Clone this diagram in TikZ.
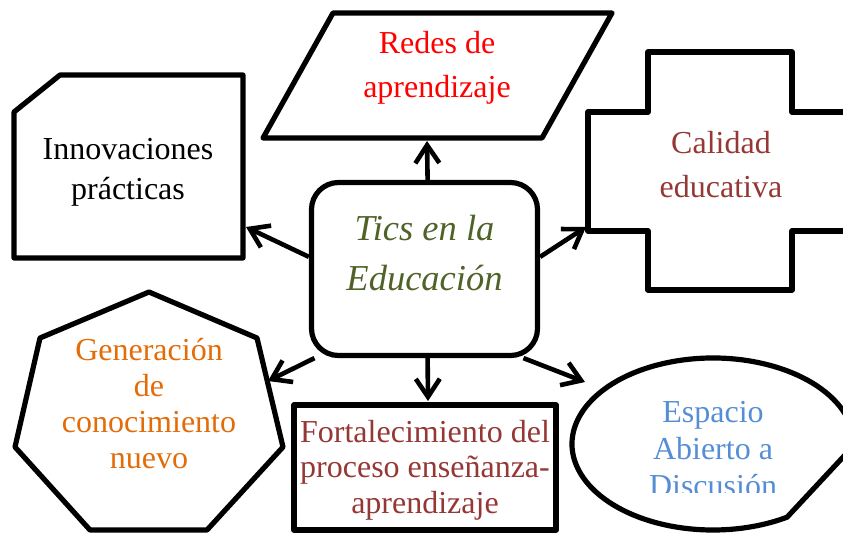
\documentclass[tikz,border=0pt]{standalone}
\usepackage{fontspec}
\setmainfont{Liberation Serif}
\usetikzlibrary{arrows.meta}
\definecolor{redesRed}{HTML}{FF0000}
\definecolor{darkRed}{HTML}{953735}
\definecolor{genOrange}{HTML}{E36C09}
\definecolor{espBlue}{HTML}{558ED5}
\definecolor{ticsGreen}{HTML}{4F6228}
\begin{document}
\begin{tikzpicture}[x=1pt, y=-1pt, shapeStyle/.style={draw, line width=5.2pt, line join=round}, textStyle/.style={anchor=north, inner sep=0pt, align=center, font=\fontsize{32}{#1}\selectfont}, arrowStyle/.style={line width=4.6pt, -{Straight Barb[length=18pt, width=24pt]}}]
                    \useasboundingbox (0,0) rectangle (843,533);
                    \clip (0,0) rectangle (843,533);

                    % shapes round the centre
                    \draw[shapeStyle] (333,13) -- (612,13) -- (542,138) -- (263,138) -- cycle;
                    \draw[shapeStyle] (60,75) -- (243,75) -- (243,258) -- (14,258) -- (14,112) -- cycle;
                    \draw[shapeStyle] (648,52) -- (792,52) -- (792,112) -- (852,112) -- (852,231) -- (792,231)
                        -- (792,290) -- (648,290) -- (648,231) -- (588,231) -- (588,112) -- (648,112) -- cycle;
                    \draw[shapeStyle] (149,292) -- (257,338) -- (283,447) -- (207,530) -- (90,530) -- (15,447) -- (40,338) -- cycle;
                    \draw[shapeStyle] (294,405) rectangle (556,530);
                    \draw[shapeStyle] (713,444) ++(-20:141 and 86) arc[start angle=-20, end angle=-301.7, x radius=141, y radius=86]
                        -- (900,396) -- cycle;

                    \node[draw, line width=5.2pt, rounded corners=27pt, minimum width=226pt, minimum height=173pt](tics_0) at (424.5,269) {};

                    \coordinate (redes_S) at (427,141);
                    \coordinate (inno_E)  at (246,227);
                    \coordinate (cal_W)   at (586,227);
                    \coordinate (gen_E)   at (268,381);
                    \coordinate (fort_N)  at (428,401);
                    \coordinate (esp_W)   at (585,382);

                    \draw[arrowStyle] (tics_0.88)  -- (redes_S);
                    \draw[arrowStyle] (tics_0.174) -- (inno_E);
                    \draw[arrowStyle] (tics_0.6)   -- (cal_W);
                    \draw[arrowStyle] (tics_0.219) -- (gen_E);
                    \draw[arrowStyle] (tics_0.272) -- (fort_N);
                    \draw[arrowStyle] (tics_0.-42) -- (esp_W);

                    % texts
                    \node[textStyle=50, font=\fontsize{36.5}{50}\selectfont\itshape, text=ticsGreen](tics_T) at (424.5,215) {Tics en la\\Educación};
                    \node[textStyle=44, text=redesRed](redes_T) at (437,31) {Redes de\\aprendizaje};
                    \node[textStyle=40](inno_T) at (128,138) {Innovaciones\\prácticas};
                    \node[textStyle=44, text=darkRed](cal_T) at (721,131) {Calidad\\educativa};
                    \node[textStyle=36, text=genOrange](gen_T) at (149,338) {Generación\\de\\conocimiento\\nuevo};
                    \node[textStyle=35.5, text=darkRed](fort_T) at (425,420) {Fortalecimiento del\\proceso enseñanza-\\aprendizaje};
                    \begin{scope}
                        \clip (560,380) rectangle (843,492);
                        \node[textStyle=37, text=espBlue](esp_T) at (713,401) {Espacio\\Abierto a\\Discusión};
                    \end{scope}
                \end{tikzpicture}
\end{document}
